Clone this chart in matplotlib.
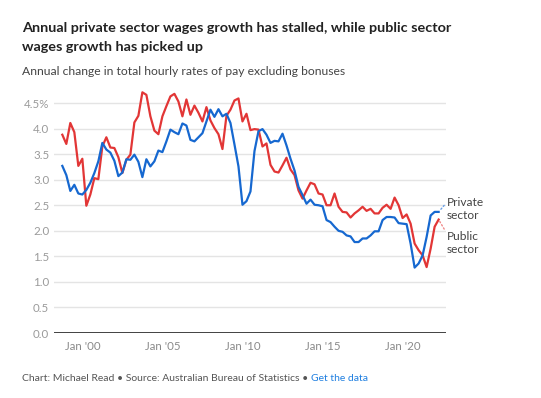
import numpy as np
import pandas as pd
import matplotlib.pyplot as plt

plt.rcParams['font.family'] = ['Lato', 'DejaVu Sans']

# quarterly, Sep 1998 to Mar 2022
quarters = pd.period_range('1998Q3', '2022Q1', freq='Q')
x = quarters.year + quarters.quarter * 0.25

private = [3.27, 3.09, 2.78, 2.90, 2.73, 2.71, 2.80, 2.94, 3.13, 3.36,
           3.72, 3.59, 3.53, 3.37, 3.07, 3.14, 3.40, 3.39, 3.49, 3.35,
           3.05, 3.40, 3.26, 3.36, 3.57, 3.54, 3.75, 3.98, 3.93, 3.89,
           4.10, 4.06, 3.78, 3.75, 3.83, 3.91, 4.14, 4.37, 4.23, 4.38,
           4.24, 4.29, 4.11, 3.69, 3.26, 2.51, 2.58, 2.77, 3.56, 3.95,
           3.99, 3.88, 3.72, 3.76, 3.75, 3.90, 3.67, 3.41, 3.18, 2.86,
           2.70, 2.53, 2.61, 2.51, 2.50, 2.48, 2.21, 2.17, 2.08, 2.00,
           1.98, 1.91, 1.89, 1.78, 1.78, 1.85, 1.85, 1.91, 1.99, 1.99,
           2.21, 2.27, 2.27, 2.26, 2.15, 2.14, 2.13, 1.75, 1.28, 1.36,
           1.52, 1.88, 2.30, 2.37, 2.37]

public = [3.88, 3.70, 4.11, 3.93, 3.27, 3.41, 2.49, 2.71, 3.03, 3.01,
          3.65, 3.83, 3.63, 3.62, 3.44, 3.13, 3.39, 3.49, 4.12, 4.25,
          4.71, 4.66, 4.24, 3.96, 3.89, 4.24, 4.44, 4.63, 4.68, 4.53,
          4.24, 4.57, 4.27, 4.45, 4.31, 4.14, 4.42, 4.16, 4.01, 3.89,
          3.60, 4.25, 4.37, 4.55, 4.59, 4.14, 4.29, 3.97, 3.99, 3.98,
          3.65, 3.71, 3.29, 3.16, 3.14, 3.28, 3.43, 3.20, 3.09, 2.79,
          2.63, 2.79, 2.94, 2.91, 2.73, 2.71, 2.50, 2.50, 2.73, 2.47,
          2.37, 2.36, 2.26, 2.34, 2.40, 2.47, 2.39, 2.43, 2.34, 2.34,
          2.45, 2.51, 2.43, 2.65, 2.50, 2.25, 2.32, 2.14, 1.75, 1.62,
          1.52, 1.29, 1.65, 2.08, 2.22]

yticks = np.arange(0, 5, 0.5)
ylabels = ['0.0', '0.5', '1.0', '1.5', '2.0', '2.5', '3.0', '3.5', '4.0', '4.5%']
xticks = [2000, 2005, 2010, 2015, 2020]
xlabels = ["Jan '00", "Jan '05", "Jan '10", "Jan '15", "Jan '20"]

BLUE = '#1668d0'
RED = '#e23636'

fig = plt.figure(figsize=(5.41, 3.98), dpi=100)
ax = fig.add_axes([0.0998, 0.1633, 0.7246, 0.6099])

ax.plot(x, public, color=RED, lw=1.6)
ax.plot(x, private, color=BLUE, lw=1.6)

ax.set_xlim(1998.23, 2022.71)
ax.set_ylim(0, 4.75)
ax.set_yticks(yticks)
ax.set_yticklabels(ylabels)
ax.set_xticks(xticks)
ax.set_xticklabels(xlabels)
ax.tick_params(axis='y', length=0, pad=3.4, labelsize=8.3, labelcolor='#9a9a9a')
ax.tick_params(axis='x', length=0, pad=6, labelsize=8.3, labelcolor='#8a8a8a')
ax.yaxis.grid(True, color='#e4e4e4', lw=1)
ax.set_axisbelow(True)
ax.axhline(0, color='#333333', lw=1.3)
for s in ax.spines.values():
    s.set_visible(False)

# labels at line ends
ax.annotate('Private\nsector', xy=(x[-1], private[-1]), xytext=(6, 2),
            textcoords='offset points', va='center', ha='left', fontsize=8.6,
            color='#444444', linespacing=1.15,
            arrowprops=dict(arrowstyle='-', color='#6aa0e6', lw=1, linestyle=':',
                            shrinkA=0, shrinkB=1, relpos=(0, 0.8)))
ax.annotate('Public\nsector', xy=(x[-1], public[-1]), xytext=(6, -17),
            textcoords='offset points', va='center', ha='left', fontsize=8.6,
            color='#444444', linespacing=1.15,
            arrowprops=dict(arrowstyle='-', color='#f08a8a', lw=1, linestyle=':',
                            shrinkA=0, shrinkB=1, relpos=(0, 0.9)))

# titles
fig.text(0.0407, 0.920, 'Annual private sector wages growth has stalled, while public sector',
         fontsize=10.4, fontweight='bold', color='#222222', va='baseline')
fig.text(0.0407, 0.873, 'wages growth has picked up',
         fontsize=10.4, fontweight='bold', color='#222222', va='baseline')
fig.text(0.0407, 0.8116, 'Annual change in total hourly rates of pay excluding bonuses',
         fontsize=8.75, color='#444444', va='baseline')

# footer
t1 = fig.text(0.0407, 0.0435, 'Chart: Michael Read \u2022 Source: Australian Bureau of Statistics \u2022 ',
              fontsize=7.45, color='#555555', va='baseline')
fig.canvas.draw()
bb = t1.get_window_extent()
fig.text(bb.x1 / fig.bbox.width, 0.0435, 'Get the data', fontsize=7.45,
         color='#1f7fe0', va='baseline')

fig.savefig('out.png', dpi=100)
